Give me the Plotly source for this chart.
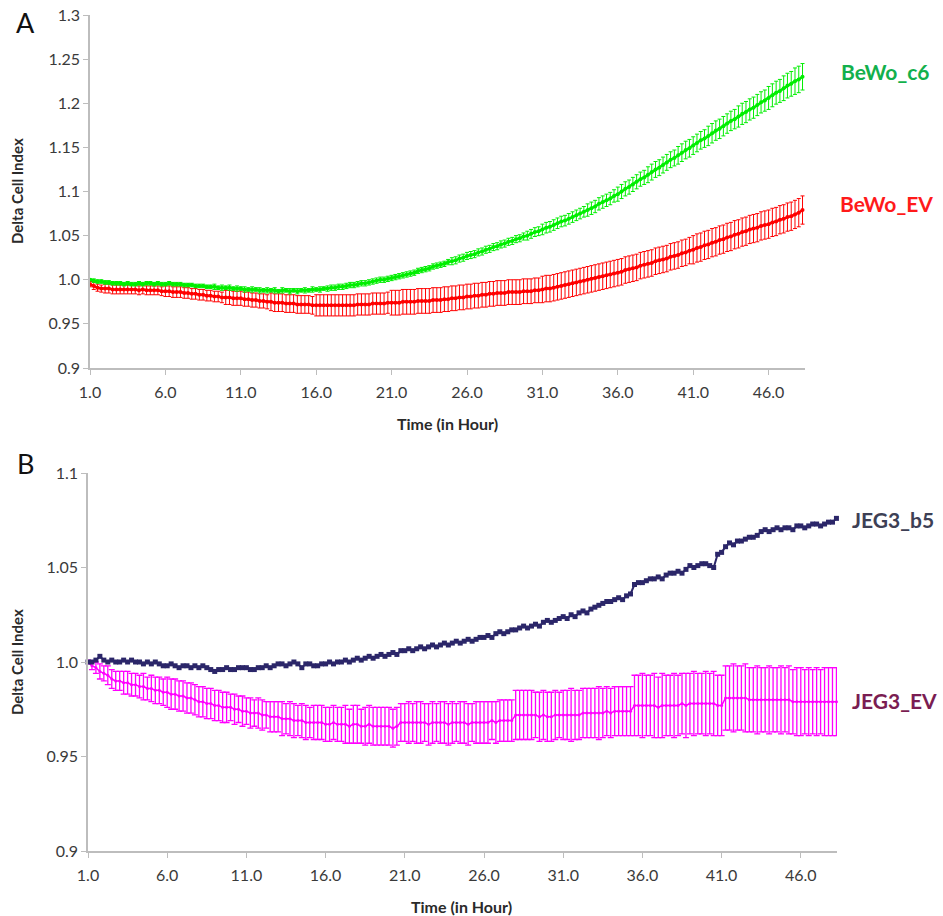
import plotly.graph_objects as go

# ---------------- data (15-min readings, 1.0 h .. 48.25 h) ----------------
bewo_c6 = [
    1.000, 0.999, 0.998, 0.998,  0.997, 0.997, 0.996, 0.996,
    0.996, 0.995, 0.996, 0.995,  0.995, 0.996, 0.995, 0.996,
    0.996, 0.995, 0.996, 0.995,  0.995, 0.996, 0.995, 0.995,
    0.995, 0.994, 0.994, 0.994,  0.993, 0.993, 0.993, 0.992,
    0.992, 0.992, 0.991, 0.991,  0.991, 0.991, 0.990, 0.990,
    0.990, 0.989, 0.989, 0.989,  0.989, 0.988, 0.988, 0.988,
    0.988, 0.988, 0.987, 0.988,  0.988, 0.987, 0.988, 0.987,
    0.988, 0.988, 0.988, 0.989,  0.989, 0.989, 0.990, 0.990,
    0.991, 0.991, 0.992, 0.992,  0.993, 0.994, 0.994, 0.995,
    0.996, 0.996, 0.997, 0.998,  0.999, 1.000, 1.000, 1.001,
    1.002, 1.003, 1.004, 1.005,  1.006, 1.007, 1.008, 1.010,
    1.011, 1.012, 1.013, 1.015,  1.016, 1.017, 1.018, 1.020,
    1.021, 1.022, 1.024, 1.025,  1.027, 1.028, 1.029, 1.031,
    1.032, 1.034, 1.035, 1.037,  1.038, 1.040, 1.041, 1.043,
    1.044, 1.046, 1.047, 1.049,  1.050, 1.052, 1.054, 1.055,
    1.057, 1.059, 1.060, 1.062,  1.064, 1.066, 1.067, 1.069,
    1.071, 1.073, 1.075, 1.077,  1.079, 1.081, 1.083, 1.086,
    1.088, 1.090, 1.092, 1.095,  1.097, 1.100, 1.103, 1.105,
    1.108, 1.111, 1.114, 1.116,  1.119, 1.122, 1.125, 1.127,
    1.130, 1.133, 1.136, 1.138,  1.141, 1.144, 1.147, 1.149,
    1.152, 1.155, 1.158, 1.160,  1.163, 1.166, 1.169, 1.171,
    1.174, 1.177, 1.180, 1.182,  1.185, 1.188, 1.190, 1.193,
    1.195, 1.198, 1.201, 1.203,  1.206, 1.209, 1.212, 1.214,
    1.217, 1.220, 1.222, 1.225,  1.227, 1.230,
]
bewo_c6_err = [
    0.001, 0.002, 0.002, 0.002,  0.002, 0.002, 0.002, 0.002,
    0.002, 0.002, 0.002, 0.002,  0.002, 0.002, 0.002, 0.002,
    0.002, 0.002, 0.002, 0.002,  0.002, 0.002, 0.002, 0.002,
    0.002, 0.002, 0.002, 0.002,  0.002, 0.002, 0.002, 0.002,
    0.002, 0.003, 0.002, 0.003,  0.002, 0.003, 0.002, 0.003,
    0.002, 0.003, 0.002, 0.003,  0.002, 0.003, 0.002, 0.003,
    0.002, 0.003, 0.002, 0.003,  0.002, 0.003, 0.002, 0.003,
    0.002, 0.003, 0.002, 0.003,  0.002, 0.003, 0.002, 0.003,
    0.003, 0.003, 0.003, 0.003,  0.003, 0.003, 0.003, 0.003,
    0.003, 0.003, 0.003, 0.003,  0.003, 0.003, 0.003, 0.003,
    0.003, 0.003, 0.003, 0.003,  0.003, 0.003, 0.003, 0.003,
    0.003, 0.003, 0.003, 0.003,  0.003, 0.003, 0.003, 0.003,
    0.004, 0.004, 0.004, 0.004,  0.004, 0.004, 0.004, 0.004,
    0.004, 0.004, 0.004, 0.004,  0.004, 0.004, 0.004, 0.004,
    0.004, 0.004, 0.004, 0.004,  0.005, 0.005, 0.005, 0.005,
    0.006, 0.006, 0.006, 0.006,  0.006, 0.006, 0.006, 0.006,
    0.006, 0.006, 0.006, 0.006,  0.007, 0.007, 0.007, 0.007,
    0.007, 0.007, 0.007, 0.007,  0.008, 0.008, 0.008, 0.008,
    0.008, 0.008, 0.008, 0.008,  0.009, 0.009, 0.009, 0.009,
    0.009, 0.009, 0.009, 0.009,  0.010, 0.010, 0.010, 0.010,
    0.010, 0.010, 0.010, 0.010,  0.011, 0.011, 0.011, 0.011,
    0.011, 0.011, 0.011, 0.011,  0.012, 0.012, 0.012, 0.012,
    0.012, 0.012, 0.012, 0.012,  0.013, 0.013, 0.013, 0.013,
    0.014, 0.014, 0.014, 0.015,  0.015, 0.015,
]
bewo_ev = [
    0.995, 0.993, 0.991, 0.990,  0.990, 0.990, 0.989, 0.989,
    0.989, 0.989, 0.989, 0.989,  0.989, 0.988, 0.989, 0.988,
    0.988, 0.988, 0.988, 0.987,  0.987, 0.987, 0.986, 0.986,
    0.986, 0.985, 0.985, 0.984,  0.984, 0.983, 0.983, 0.982,
    0.982, 0.981, 0.981, 0.980,  0.980, 0.980, 0.979, 0.979,
    0.979, 0.978, 0.978, 0.977,  0.977, 0.976, 0.976, 0.975,
    0.975, 0.974, 0.974, 0.974,  0.973, 0.973, 0.973, 0.972,
    0.972, 0.972, 0.972, 0.971,  0.971, 0.971, 0.971, 0.971,
    0.971, 0.971, 0.971, 0.971,  0.971, 0.971, 0.971, 0.972,
    0.972, 0.972, 0.972, 0.973,  0.973, 0.973, 0.973, 0.974,
    0.974, 0.974, 0.974, 0.975,  0.975, 0.975, 0.975, 0.976,
    0.976, 0.976, 0.976, 0.977,  0.977, 0.977, 0.978, 0.978,
    0.979, 0.979, 0.980, 0.980,  0.981, 0.981, 0.982, 0.982,
    0.983, 0.983, 0.984, 0.984,  0.985, 0.985, 0.985, 0.986,
    0.986, 0.986, 0.986, 0.987,  0.987, 0.987, 0.988, 0.988,
    0.989, 0.990, 0.990, 0.991,  0.992, 0.993, 0.994, 0.995,
    0.996, 0.997, 0.998, 0.999,  1.000, 1.001, 1.002, 1.003,
    1.004, 1.005, 1.006, 1.007,  1.008, 1.009, 1.011, 1.012,
    1.013, 1.014, 1.016, 1.017,  1.018, 1.019, 1.021, 1.022,
    1.023, 1.024, 1.026, 1.027,  1.028, 1.030, 1.031, 1.033,
    1.034, 1.036, 1.037, 1.039,  1.040, 1.042, 1.043, 1.045,
    1.046, 1.048, 1.049, 1.051,  1.052, 1.054, 1.055, 1.057,
    1.058, 1.059, 1.061, 1.062,  1.063, 1.065, 1.066, 1.068,
    1.069, 1.071, 1.072, 1.074,  1.076, 1.079,
]
bewo_ev_err = [
    0.003, 0.004, 0.004, 0.004,  0.005, 0.005, 0.005, 0.005,
    0.005, 0.005, 0.005, 0.005,  0.005, 0.005, 0.005, 0.005,
    0.005, 0.005, 0.005, 0.005,  0.006, 0.006, 0.006, 0.006,
    0.006, 0.006, 0.006, 0.006,  0.006, 0.006, 0.006, 0.006,
    0.006, 0.006, 0.006, 0.006,  0.008, 0.008, 0.008, 0.008,
    0.008, 0.008, 0.008, 0.008,  0.008, 0.008, 0.008, 0.008,
    0.010, 0.010, 0.010, 0.010,  0.010, 0.010, 0.010, 0.010,
    0.010, 0.010, 0.010, 0.010,  0.012, 0.012, 0.012, 0.012,
    0.012, 0.012, 0.012, 0.012,  0.012, 0.012, 0.012, 0.012,
    0.012, 0.012, 0.012, 0.012,  0.012, 0.012, 0.012, 0.012,
    0.014, 0.014, 0.014, 0.014,  0.014, 0.014, 0.014, 0.014,
    0.014, 0.014, 0.014, 0.014,  0.014, 0.014, 0.014, 0.014,
    0.014, 0.014, 0.014, 0.014,  0.014, 0.014, 0.014, 0.014,
    0.014, 0.014, 0.014, 0.014,  0.014, 0.014, 0.014, 0.014,
    0.014, 0.014, 0.014, 0.014,  0.014, 0.014, 0.014, 0.014,
    0.015, 0.015, 0.015, 0.015,  0.015, 0.015, 0.015, 0.015,
    0.015, 0.015, 0.015, 0.015,  0.015, 0.015, 0.015, 0.015,
    0.015, 0.015, 0.015, 0.015,  0.015, 0.015, 0.015, 0.015,
    0.015, 0.015, 0.015, 0.015,  0.015, 0.015, 0.015, 0.015,
    0.015, 0.015, 0.015, 0.015,  0.015, 0.015, 0.015, 0.015,
    0.016, 0.016, 0.016, 0.016,  0.016, 0.016, 0.016, 0.016,
    0.016, 0.016, 0.016, 0.016,  0.016, 0.016, 0.016, 0.016,
    0.016, 0.016, 0.016, 0.016,  0.016, 0.016, 0.016, 0.016,
    0.016, 0.016, 0.016, 0.016,  0.016, 0.016,
]
jeg3_b5 = [
    1.000, 1.000, 1.001, 1.003,  1.001, 1.000, 1.001, 1.000,
    1.000, 1.001, 1.000, 1.001,  1.000, 1.000, 0.999, 1.000,
    0.999, 1.000, 0.999, 0.998,  0.998, 0.999, 0.998, 0.997,
    0.998, 0.998, 0.997, 0.998,  0.997, 0.998, 0.997, 0.996,
    0.995, 0.996, 0.996, 0.997,  0.996, 0.996, 0.997, 0.997,
    0.997, 0.996, 0.996, 0.997,  0.997, 0.998, 0.997, 0.998,
    0.999, 0.999, 0.998, 0.999,  1.000, 0.999, 0.997, 0.999,
    0.999, 0.998, 0.998, 0.999,  0.999, 1.000, 0.999, 1.000,
    1.000, 1.001, 1.000, 1.001,  1.002, 1.001, 1.002, 1.003,
    1.002, 1.003, 1.004, 1.003,  1.004, 1.005, 1.004, 1.006,
    1.006, 1.007, 1.006, 1.007,  1.008, 1.007, 1.008, 1.009,
    1.008, 1.009, 1.010, 1.009,  1.010, 1.011, 1.010, 1.011,
    1.012, 1.011, 1.012, 1.013,  1.013, 1.014, 1.013, 1.015,
    1.016, 1.015, 1.016, 1.017,  1.017, 1.018, 1.019, 1.018,
    1.019, 1.020, 1.019, 1.021,  1.022, 1.021, 1.022, 1.023,
    1.024, 1.023, 1.025, 1.024,  1.026, 1.027, 1.026, 1.028,
    1.029, 1.030, 1.031, 1.032,  1.032, 1.033, 1.034, 1.033,
    1.035, 1.036, 1.041, 1.042,  1.042, 1.043, 1.044, 1.044,
    1.045, 1.044, 1.046, 1.047,  1.047, 1.048, 1.047, 1.049,
    1.051, 1.050, 1.051, 1.052,  1.052, 1.051, 1.050, 1.057,
    1.058, 1.061, 1.063, 1.062,  1.064, 1.064, 1.065, 1.066,
    1.066, 1.067, 1.069, 1.070,  1.069, 1.070, 1.071, 1.070,
    1.071, 1.071, 1.070, 1.072,  1.072, 1.071, 1.072, 1.073,
    1.073, 1.072, 1.073, 1.074,  1.074, 1.076,
]
jeg3_ev = [
    1.000, 0.998, 0.997, 0.995,  0.994, 0.993, 0.991, 0.990,
    0.990, 0.989, 0.989, 0.988,  0.988, 0.987, 0.987, 0.986,
    0.986, 0.985, 0.985, 0.984,  0.984, 0.983, 0.983, 0.982,
    0.982, 0.981, 0.981, 0.980,  0.979, 0.979, 0.978, 0.978,
    0.977, 0.977, 0.976, 0.976,  0.976, 0.975, 0.975, 0.974,
    0.974, 0.973, 0.973, 0.973,  0.972, 0.972, 0.971, 0.971,
    0.971, 0.970, 0.970, 0.970,  0.969, 0.969, 0.969, 0.968,
    0.968, 0.968, 0.968, 0.968,  0.967, 0.967, 0.968, 0.967,
    0.967, 0.967, 0.966, 0.967,  0.967, 0.966, 0.966, 0.967,
    0.966, 0.966, 0.966, 0.966,  0.966, 0.965, 0.966, 0.968,
    0.968, 0.968, 0.968, 0.968,  0.968, 0.968, 0.967, 0.968,
    0.968, 0.968, 0.968, 0.967,  0.968, 0.968, 0.968, 0.968,
    0.967, 0.968, 0.968, 0.968,  0.968, 0.968, 0.969, 0.968,
    0.969, 0.969, 0.969, 0.969,  0.972, 0.972, 0.972, 0.972,
    0.972, 0.972, 0.971, 0.972,  0.971, 0.971, 0.972, 0.972,
    0.972, 0.972, 0.972, 0.972,  0.972, 0.973, 0.973, 0.973,
    0.973, 0.973, 0.973, 0.974,  0.973, 0.974, 0.974, 0.974,
    0.974, 0.974, 0.977, 0.977,  0.977, 0.977, 0.977, 0.977,
    0.976, 0.977, 0.977, 0.977,  0.977, 0.977, 0.978, 0.977,
    0.978, 0.978, 0.978, 0.978,  0.978, 0.978, 0.978, 0.977,
    0.977, 0.981, 0.981, 0.981,  0.981, 0.981, 0.981, 0.980,
    0.980, 0.980, 0.980, 0.980,  0.980, 0.980, 0.980, 0.980,
    0.980, 0.980, 0.979, 0.979,  0.979, 0.979, 0.979, 0.979,
    0.979, 0.979, 0.979, 0.979,  0.979, 0.979,
]
jeg3_ev_err = [
    0.001, 0.002, 0.003, 0.004,  0.004, 0.005, 0.005, 0.005,
    0.005, 0.006, 0.006, 0.006,  0.006, 0.006, 0.007, 0.006,
    0.007, 0.007, 0.007, 0.007,  0.008, 0.008, 0.008, 0.008,
    0.008, 0.008, 0.008, 0.008,  0.008, 0.008, 0.008, 0.008,
    0.008, 0.008, 0.008, 0.008,  0.007, 0.008, 0.007, 0.008,
    0.007, 0.008, 0.007, 0.008,  0.008, 0.007, 0.008, 0.008,
    0.008, 0.009, 0.008, 0.009,  0.009, 0.008, 0.009, 0.009,
    0.008, 0.009, 0.009, 0.009,  0.009, 0.009, 0.009, 0.009,
    0.009, 0.010, 0.009, 0.010,  0.010, 0.009, 0.010, 0.010,
    0.010, 0.010, 0.010, 0.010,  0.010, 0.010, 0.010, 0.010,
    0.010, 0.011, 0.010, 0.011,  0.011, 0.010, 0.011, 0.011,
    0.010, 0.011, 0.011, 0.011,  0.011, 0.010, 0.011, 0.011,
    0.011, 0.010, 0.011, 0.011,  0.011, 0.011, 0.010, 0.011,
    0.011, 0.011, 0.011, 0.011,  0.013, 0.013, 0.013, 0.013,
    0.013, 0.012, 0.013, 0.013,  0.013, 0.013, 0.013, 0.012,
    0.013, 0.013, 0.014, 0.013,  0.013, 0.013, 0.013, 0.013,
    0.013, 0.014, 0.013, 0.013,  0.013, 0.013, 0.013, 0.013,
    0.013, 0.013, 0.016, 0.016,  0.017, 0.016, 0.016, 0.017,
    0.016, 0.017, 0.016, 0.016,  0.017, 0.016, 0.016, 0.017,
    0.016, 0.017, 0.016, 0.016,  0.017, 0.016, 0.017, 0.016,
    0.016, 0.017, 0.017, 0.018,  0.017, 0.017, 0.018, 0.017,
    0.017, 0.018, 0.017, 0.017,  0.018, 0.017, 0.017, 0.018,
    0.017, 0.018, 0.017, 0.018,  0.018, 0.017, 0.018, 0.017,
    0.018, 0.017, 0.018, 0.018,  0.018, 0.018,
]
hours = [1.0 + 0.25 * i for i in range(len(bewo_c6))]

x_tick_vals = [1, 6, 11, 16, 21, 26, 31, 36, 41, 46]
x_tick_text = ["1.0", "6.0", "11.0", "16.0", "21.0", "26.0", "31.0", "36.0", "41.0", "46.0"]
yA_tick_vals = [0.9, 0.95, 1.0, 1.05, 1.1, 1.15, 1.2, 1.25, 1.3]
yA_tick_text = ["0.9", "0.95", "1.0", "1.05", "1.1", "1.15", "1.2", "1.25", "1.3"]
yB_tick_vals = [0.9, 0.95, 1.0, 1.05, 1.1]
yB_tick_text = ["0.9", "0.95", "1.0", "1.05", "1.1"]

# ---------------- layout helpers ----------------
W, H = 943, 916
def px(x):
    return x / W
def py(y):
    return 1 - y / H

FONT = "Lato, 'Open Sans', sans-serif"
TICK_FONT = dict(family=FONT, size=16, color="#3a3a3a")
AXIS_COL = "#bdbdbd"

fig = go.Figure()

def add_series(x, y, err, color, xa, ya, msize, lw, msym="circle", ewidth=2, ethick=1):
    kw = {}
    if err is not None:
        kw["error_y"] = dict(type="data", array=err, visible=True, color=color,
                             thickness=ethick, width=ewidth)
    fig.add_trace(go.Scatter(
        x=x, y=y, mode="lines+markers", xaxis=xa, yaxis=ya,
        line=dict(color=color, width=lw),
        marker=dict(color=color, size=msize, symbol=msym, line=dict(width=0)),
        cliponaxis=False, showlegend=False, **kw))

# Panel A
add_series(hours, bewo_ev, bewo_ev_err, "rgb(255,0,0)", "x", "y", 4, 2.5)
add_series(hours, bewo_c6, bewo_c6_err, "rgb(0,238,0)", "x", "y", 4, 2.5)
# Panel B
add_series(hours, jeg3_ev, jeg3_ev_err, "rgb(255,0,255)", "x2", "y2", 3, 1.5,
           ewidth=3, ethick=1.3)
add_series(hours, jeg3_b5, None, "rgb(43,38,105)", "x2", "y2", 5, 2, msym="square")

common_x = dict(showgrid=False, zeroline=False, showline=True, linecolor=AXIS_COL,
                linewidth=1.5, ticks="outside", ticklen=5, tickcolor=AXIS_COL,
                tickwidth=1, tickvals=x_tick_vals, ticktext=x_tick_text,
                tickfont=TICK_FONT, ticklabelstandoff=4, automargin=False)
common_y = dict(showgrid=False, zeroline=False, showline=True, linecolor=AXIS_COL,
                linewidth=1.5, ticks="outside", ticklen=5, tickcolor=AXIS_COL,
                tickwidth=1, tickfont=TICK_FONT, automargin=False)

fig.update_layout(
    width=W, height=H, margin=dict(l=0, r=0, t=0, b=0, autoexpand=False),
    paper_bgcolor="white", plot_bgcolor="white",
    xaxis=dict(domain=[px(90), px(805)], range=[1, 1 + (805 - 90) / 15.08],
               anchor="y", **common_x),
    yaxis=dict(domain=[py(368), py(15)], range=[0.9, 1.3], anchor="x",
               tickvals=yA_tick_vals, ticktext=yA_tick_text, **common_y),
    xaxis2=dict(domain=[px(88), px(837)], range=[1, 1 + (837 - 88) / 15.84],
                anchor="y2", **common_x),
    yaxis2=dict(domain=[py(851), py(473)], range=[0.9, 1.1], anchor="x2",
                tickvals=yB_tick_vals, ticktext=yB_tick_text, **common_y),
)

def ann(text, x, y, size, color, bold=False, xanchor="center", angle=0):
    fig.add_annotation(
        text=f"<b>{text}</b>" if bold else text, x=px(x), y=py(y),
        xref="paper", yref="paper", showarrow=False, xanchor=xanchor,
        yanchor="middle", textangle=angle,
        font=dict(family=FONT, size=size, color=color))

ann("A", 25, 22, 27, "#111111")
ann("B", 25, 463, 27, "#111111")
ann("Delta Cell Index", 17, 191, 15, "#2a2a2a", bold=True, angle=-90)
ann("Delta Cell Index", 17, 662, 15, "#2a2a2a", bold=True, angle=-90)
ann("Time (in Hour)", 447, 423, 16, "#2a2a2a", bold=True)
ann("Time (in Hour)", 461, 906, 16, "#2a2a2a", bold=True)
ann("BeWo_c6", 839, 72, 21, "#12b04c", bold=True, xanchor="left")
ann("BeWo_EV", 838, 203, 21, "#ff1a1a", bold=True, xanchor="left")
ann("JEG3_b5", 850, 519, 21, "#3d4055", bold=True, xanchor="left")
ann("JEG3_EV", 850, 700, 21, "#7a1d52", bold=True, xanchor="left")

fig.write_html(
    "out.html",
    config={"displayModeBar": False},
    post_script="document.body.style.margin='0';document.body.style.padding='0';"
                "document.body.style.overflow='hidden';",
)
